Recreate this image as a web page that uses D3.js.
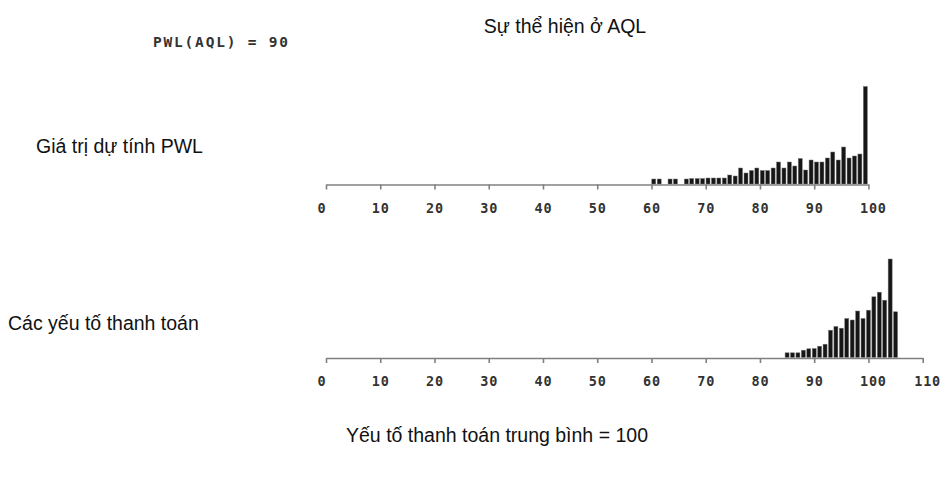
<!DOCTYPE html>
<html>
<head>
<meta charset="utf-8">
<script src="https://cdn.jsdelivr.net/npm/d3@7"></script>
<style>
  html, body { margin: 0; padding: 0; background: #fff; }
  svg { display: block; }
  .title { font-family: "Liberation Sans", Arial, sans-serif; font-size: 19.5px; fill: #111; }
  .mono { font-family: "DejaVu Sans Mono", monospace; fill: #333; }
</style>
</head>
<body>
<script>
// Distribution of estimated PWL values (bin start, relative frequency)
const pwlBins = [60, 61, 62, 63, 64, 65, 66, 67, 68, 69, 70, 71, 72, 73, 74, 75, 76, 77, 78, 79,
                 80, 81, 82, 83, 84, 85, 86, 87, 88, 89, 90, 91, 92, 93, 94, 95, 96, 97, 98, 99];
const pwlFreq = [5, 5, 0, 5, 5, 0, 5, 5.5, 5.5, 5.5, 6, 6, 6, 6, 9, 8, 16, 11, 13.5, 16,
                 13.5, 13.5, 16, 22, 16, 22, 18, 25.5, 14, 24, 22, 22, 26, 32, 24, 37, 26, 28, 30, 97.5];

// Distribution of pay factors (bin centre, relative frequency)
const payBins = [85, 86, 87, 88, 89, 90, 91, 92, 93, 94, 95, 96, 97, 98, 99, 100, 101, 102, 103, 104, 105];
const payFreq = [4.7, 4.7, 4.7, 7.3, 8.7, 9, 11.3, 13.3, 27.3, 31, 29.3, 39, 37.5, 46.5, 39, 47.3,
                 60.7, 65.3, 57.3, 98.5, 45.7];

const pwlTicks = [0, 10, 20, 30, 40, 50, 60, 70, 80, 90, 100];
const payTicks = [0, 10, 20, 30, 40, 50, 60, 70, 80, 90, 100, 110];

const W = 945, H = 481;
const svg = d3.select("body").append("svg").attr("width", W).attr("height", H);

const x = d3.scaleLinear().domain([0, 110]).range([326, 922.7]);

function panel(baseY, maxX, ticks, bins, freq, centred) {
  const y = d3.scaleLinear().domain([0, 100]).range([baseY, baseY - 100]);
  const xs = x.copy().domain([0, maxX]).range([x(0), x(maxX)]);
  const g = svg.append("g");
  const bw = 4;
  g.selectAll("rect").data(bins.map((b, i) => ({ b, f: freq[i] })).filter(d => d.f > 0))
    .join("rect")
    .attr("x", d => centred ? xs(d.b) - bw / 2 : xs(d.b) + 0.3)
    .attr("width", bw)
    .attr("y", d => y(d.f))
    .attr("height", d => y(0) - y(d.f))
    .attr("fill", "#161616")
    .attr("stroke", "#777")
    .attr("stroke-width", 0.5);

  const axis = d3.axisBottom(xs).tickValues(ticks).tickSize(5).tickSizeOuter(0).tickPadding(13.5)
    .tickFormat(d3.format("d"));
  const ag = svg.append("g").attr("transform", `translate(0,${baseY + 0.5})`).call(axis);
  ag.select(".domain").attr("stroke", "#808080").attr("stroke-width", 1.6);
  ag.selectAll(".tick line").attr("stroke", "#808080").attr("stroke-width", 1.6);
  ag.selectAll(".tick text")
    .attr("class", "mono")
    .attr("text-anchor", "start")
    .attr("x", -9)
    .attr("font-size", 13.5)
    .attr("font-weight", "bold")
    .attr("letter-spacing", 0.8)
    .attr("fill", "#3a3a3a");
}

panel(184, 100, pwlTicks, pwlBins, pwlFreq, false);
panel(357.5, 110, payTicks, payBins, payFreq, true);

svg.append("text").attr("class", "title").attr("x", 565).attr("y", 33)
  .attr("text-anchor", "middle").text("Sự thể hiện ở AQL");
svg.append("text").attr("class", "mono").attr("x", 153).attr("y", 47)
  .attr("font-size", 14.5).attr("font-weight", "bold").attr("letter-spacing", 1.8)
  .attr("fill", "#3a3a3a")
  .text("PWL(AQL) = 90");
svg.append("text").attr("class", "title").attr("x", 36).attr("y", 153)
  .text("Giá trị dự tính PWL");
svg.append("text").attr("class", "title").attr("x", 8).attr("y", 330)
  .text("Các yếu tố thanh toán");
svg.append("text").attr("class", "title").attr("x", 497).attr("y", 442)
  .attr("text-anchor", "middle").text("Yếu tố thanh toán trung bình = 100");
</script>
</body>
</html>
